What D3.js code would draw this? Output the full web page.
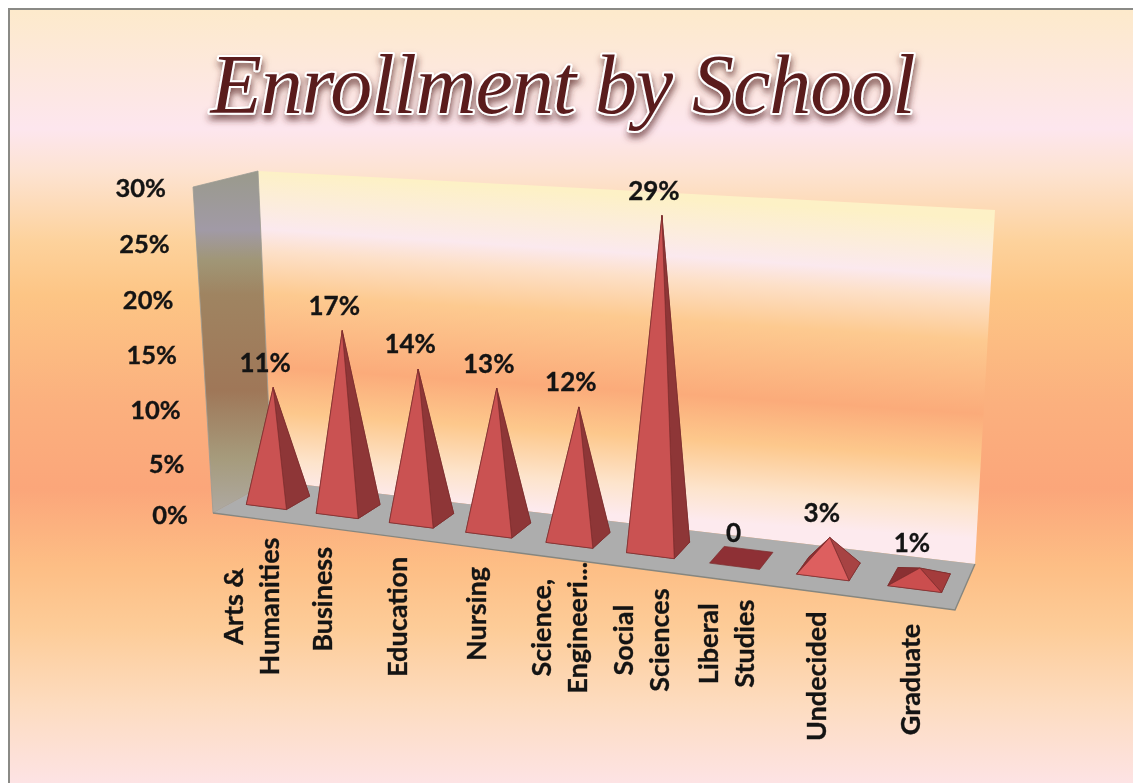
<!DOCTYPE html>
<html><head><meta charset="utf-8">
<script src="https://cdn.jsdelivr.net/npm/d3@7/dist/d3.min.js"></script>
<style>html,body{margin:0;padding:0;background:#fff;overflow:hidden}svg{display:block;filter:blur(0.5px)}</style>
</head><body><svg id="c" width="1133" height="783"></svg>
<script>
// ---- data ----
const categories = [["Arts &","Humanities"],["Business"],["Education"],["Nursing"],["Science,","Engineeri..."],["Social","Sciences"],["Liberal","Studies"],["Undecided"],["Graduate"]];
const values = [10.9,17,14,12.9,11.9,29.8,0,2.7,1.0];
const dataLabels = ["11%","17%","14%","13%","12%","29%","0","3%","1%"];
const yTicks = [0,5,10,15,20,25,30];
const titleText = "Enrollment by School";

// ---- layout ----
const floorFL=[213,513], floorFR=[955,610], floorBR=[975,564], floorBL=[272,481];
const wallTopBack=[258,171], wallTopRight=[995,210], wallTopFront=[193,187];
const VP=[584,7381];
const svg=d3.select("#c"), defs=svg.append("defs");
const FONT="Lato, Carlito, 'Open Sans', sans-serif";

// homography from unit square to the floor quad
function makeHomography(p00,p10,p11,p01){
  const [x0,y0]=p00,[x1,y1]=p10,[x2,y2]=p11,[x3,y3]=p01;
  const dx1=x1-x2,dx2=x3-x2,dx3=x0-x1+x2-x3,dy1=y1-y2,dy2=y3-y2,dy3=y0-y1+y2-y3;
  const den=dx1*dy2-dx2*dy1;
  const g=(dx3*dy2-dx2*dy3)/den,h=(dx1*dy3-dx3*dy1)/den;
  const a=x1-x0+g*x1,b=x3-x0+h*x3,d=y1-y0+g*y1,e=y3-y0+h*y3;
  return (u,v)=>{const w=g*u+h*v+1;return [(a*u+b*v+x0)/w,(d*u+e*v+y0)/w];};
}
const rawFloor=makeHomography(floorFL,floorFR,floorBR,floorBL);
const uWarp=d3.scaleLinear().domain([0,.5,.9,1]).range([0,.516,.905,1]);
const floor=(u,v)=>rawFloor(uWarp(u),v);

const uScale=d3.scaleBand().domain(d3.range(categories.length)).range([0,1]).paddingInner(0.42).paddingOuter(0.21);
const vScale=d3.scaleLinear().domain([0,1]).range([0.31,0.72]);
const heightFrac=d3.scaleLinear().domain([0,30]).range([0,1]);
const wallHeight=d3.scaleLinear().domain([floorBL[0],floorBR[0]]).range([310,354]);
const yLabelY=d3.scalePow().exponent(1.03).domain([0,30]).range([515,188]);
const yLabelX=d3.scaleLinear().domain([0,30]).range([188,166]);
const frontColor=d3.scaleLinear().domain([1,3,8]).range(["#cb4e4e","#e06262","#ca5252"]).clamp(true);
const rightColor=d3.scaleLinear().domain([1,3,8]).range(["#a43c3c","#a84444","#8e3637"]).clamp(true);

function gradient(id,attrs,stops){
  const g=defs.append("linearGradient").attr("id",id).attr("gradientUnits","userSpaceOnUse");
  Object.entries(attrs).forEach(([k,v])=>g.attr(k,v));
  stops.forEach(([o,c])=>g.append("stop").attr("offset",o).attr("stop-color",c));
}
gradient("bg",{x1:0,y1:9,x2:0,y2:783},[[0,"#fdeacb"],[.155,"#fde6ee"],[.21,"#fde3d2"],[.3,"#fdd29c"],[.37,"#fdc585"],[.51,"#fbb07e"],[.62,"#fba67a"],[.72,"#fdbe85"],[.8,"#fdcc98"],[.9,"#fddcc0"],[1,"#fde3e4"]]);
gradient("backWall",{x1:258,y1:171,x2:237,y2:490},[[0,"#fdf1c6"],[.18,"#fbe9ee"],[.25,"#fde0c8"],[.38,"#fdca90"],[.61,"#fbab7a"],[.75,"#fdc88c"],[.9,"#fde4cc"],[1,"#fdeaee"]]);
gradient("leftWall",{x1:0,y1:172,x2:0,y2:513},[[0,"#9a9a8c"],[.17,"#a19aa6"],[.26,"#a09676"],[.36,"#9f8461"],[.64,"#9f7758"],[.84,"#a69b7c"],[1,"#aea9a2"]]);

const f=defs.append("filter").attr("id","shadow").attr("x","-5%").attr("y","-20%").attr("width","110%").attr("height","150%");
f.append("feDropShadow").attr("dx",1).attr("dy",5).attr("stdDeviation",3.5).attr("flood-color","#5a2a2a").attr("flood-opacity",.75);

const line=d3.line();
const poly=p=>line(p)+"Z";

// background and frame
svg.append("rect").attr("x",9).attr("y",9).attr("width",1124).attr("height",774).attr("fill","url(#bg)");
svg.append("path").attr("d",line([[9,783],[9,9],[1133,9]])).attr("fill","none").attr("stroke","#8a8a86").attr("stroke-width",2);

// title
svg.append("text").attr("x",563).attr("y",113).attr("text-anchor","middle")
  .attr("textLength",705).attr("lengthAdjust","spacing")
  .style("font-family","'Liberation Serif',serif").style("font-style","italic").style("font-weight","400").style("font-size","84px")
  .attr("fill","#5a1a1f").attr("stroke","#fff").attr("stroke-width",4).attr("paint-order","stroke").attr("stroke-linejoin","round")
  .attr("filter","url(#shadow)").text(titleText);

// walls and floor
svg.append("path").attr("d",poly([wallTopBack,wallTopRight,floorBR,floorBL])).attr("fill","url(#backWall)");
svg.append("path").attr("d",poly([wallTopFront,wallTopBack,floorBL,floorFL])).attr("fill","url(#leftWall)").attr("stroke","#9c9c94").attr("stroke-width",.8);
svg.append("path").attr("d",poly([floorFL,floorFR,floorBR,floorBL])).attr("fill","#adadad");
svg.append("path").attr("d",line([floorFL,floorFR,floorBR])).attr("fill","none").attr("stroke","#86867f").attr("stroke-width",1.4);

const textStyle=(s,size)=>s.style("font-family",FONT).style("font-weight","700").style("font-size",size+"px").attr("fill","#141414").attr("stroke","#141414").attr("stroke-width",.35);

// y tick labels
svg.append("g").selectAll("text").data(yTicks).join("text")
  .attr("x",d=>yLabelX(d)).attr("y",d=>yLabelY(d)).attr("dy","0.36em").attr("text-anchor","end")
  .call(textStyle,25.5).text(d=>d+"%");

// pyramids
const rows=categories.map((c,i)=>{
  const u0=uScale(i),u1=u0+uScale.bandwidth(),v0=vScale(0),v1=vScale(1);
  const fl=floor(u0,v0),fr=floor(u1,v0),br=floor(u1,v1),bl=floor(u0,v1);
  const ctr=floor((u0+u1)/2,(v0+v1)/2);
  const h=heightFrac(values[i])*wallHeight(ctr[0]);
  const apex=[ctr[0]+(ctr[0]-VP[0])*h/(VP[1]-ctr[1]),ctr[1]-h];
  return {i,v:values[i],fl,fr,br,bl,apex,ctr};
});
const pyr=svg.append("g").selectAll("g").data(rows).join("g").attr("stroke","#7c2e2e").attr("stroke-width",.7).attr("stroke-linejoin","round");
pyr.append("path").attr("d",d=>poly([d.fl,d.fr,d.br,d.bl])).attr("fill","#8e3035");
pyr.filter(d=>d.v>0).each(function(d){
  const g=d3.select(this);
  g.append("path").attr("d",poly([d.bl,d.br,d.apex])).attr("fill","#8a3032");
  g.append("path").attr("d",poly([d.fl,d.bl,d.apex])).attr("fill","#8a3032");
  g.append("path").attr("d",poly([d.fr,d.br,d.apex])).attr("fill",rightColor(d.v));
  g.append("path").attr("d",poly([d.fl,d.fr,d.apex])).attr("fill",frontColor(d.v));
});

// data labels
svg.append("g").selectAll("text").data(rows).join("text")
  .attr("x",d=>d.apex[0]-8).attr("y",d=>d.apex[1]-25).attr("dy","0.36em").attr("text-anchor","middle")
  .call(textStyle,26).text(d=>dataLabels[d.i]);

// category labels, rotated, one or two lines
const LINE_GAP=36;
svg.append("g").selectAll("g").data(categories).join("g").each(function(lines,i){
  const g=d3.select(this);
  const u=uScale(i)+uScale.bandwidth()/2;
  const base=floor(u,0);
  const texts=g.selectAll("text").data(lines).join("text").attr("text-anchor","middle").call(textStyle,27).text(d=>d);
  const longest=d3.max(texts.nodes(),n=>n.getComputedTextLength());
  const truncatedLift=lines[lines.length-1].endsWith("...")?-16:0;
  const cy=base[1]+20+longest/2+truncatedLift;
  texts.attr("transform",(d,k)=>`translate(${base[0]+(k-(lines.length-1)/2)*LINE_GAP+13},${cy}) rotate(-90)`);
});
</script></body></html>
